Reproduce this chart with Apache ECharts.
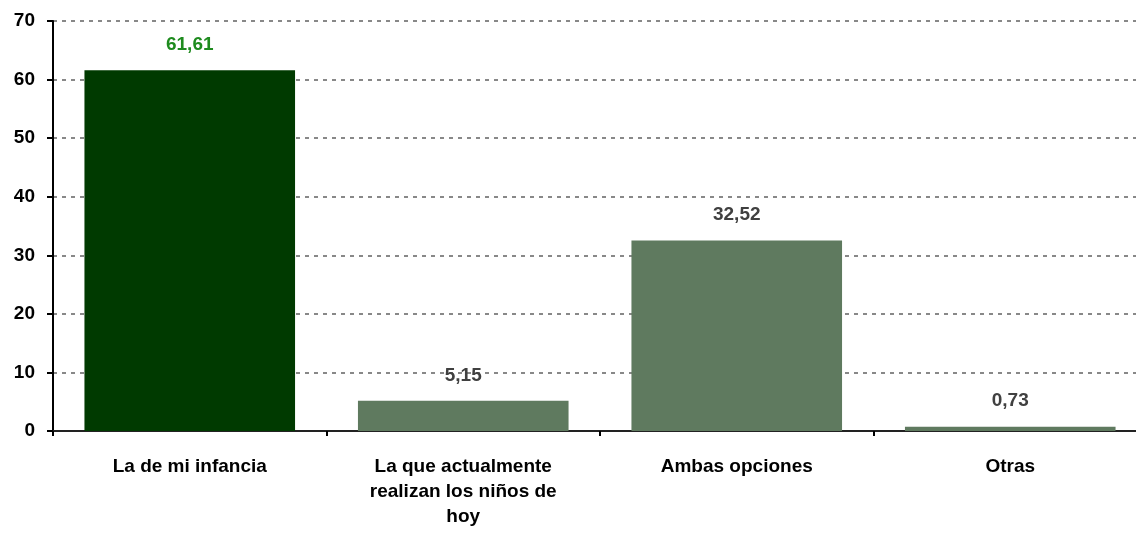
<!DOCTYPE html>
<html>
<head>
<meta charset="utf-8">
<script src="https://cdn.jsdelivr.net/npm/echarts@6/dist/echarts.min.js"></script>
<style>
  html, body { margin: 0; padding: 0; background: #fff; }
  #chart { width: 1136px; height: 533px; }
</style>
</head>
<body>
<div id="chart"></div>
<script>
const categories = ['La de mi infancia', 'La que actualmente\nrealizan los niños de\nhoy', 'Ambas opciones', 'Otras'];
const values = [61.61, 5.15, 32.52, 0.73];
const barColors = ['#003a00', '#5f7a5f', '#5f7a5f', '#5f7a5f'];
const labelColors = ['#1e8b1e', '#404040', '#404040', '#404040'];

const chart = echarts.init(document.getElementById('chart'));
chart.setOption({
    animation: false,
    grid: { left: 53, top: 21, width: 1094, height: 410, containLabel: false, outerBoundsMode: 'none' },
    xAxis: {
        type: 'category',
        data: categories,
        axisLine: { lineStyle: { color: '#222', width: 2 } },
        axisTick: { show: true, length: 5, lineStyle: { color: '#000', width: 2 } },
        axisLabel: {
            interval: 0,
            margin: 23,
            fontFamily: 'Liberation Sans, Arial, sans-serif',
            fontWeight: 'bold',
            fontSize: 19,
            color: '#000',
            lineHeight: 25
        }
    },
    yAxis: {
        type: 'value',
        min: 0,
        max: 70,
        interval: 10,
        axisLine: { show: true, lineStyle: { color: '#000', width: 2 } },
        axisTick: { show: true, length: 6, lineStyle: { color: '#000', width: 2 } },
        axisLabel: {
            margin: 18,
            fontFamily: 'Liberation Sans, Arial, sans-serif',
            fontWeight: 'bold',
            fontSize: 19,
            color: '#000'
        },
        splitLine: { lineStyle: { color: '#888', type: [4, 5], width: 2 } }
    },
    series: [{
        type: 'bar',
        barCategoryGap: '23%',
        data: values.map((v, i) => ({
            value: v,
            itemStyle: { color: barColors[i] },
            label: { color: labelColors[i] }
        })),
        label: {
            show: true,
            position: 'top',
            distance: 16,
            fontFamily: 'Liberation Sans, Arial, sans-serif',
            fontWeight: 'bold',
            fontSize: 19,
            formatter: p => p.value.toFixed(2).replace('.', ',')
        }
    }]
});
</script>
</body>
</html>
